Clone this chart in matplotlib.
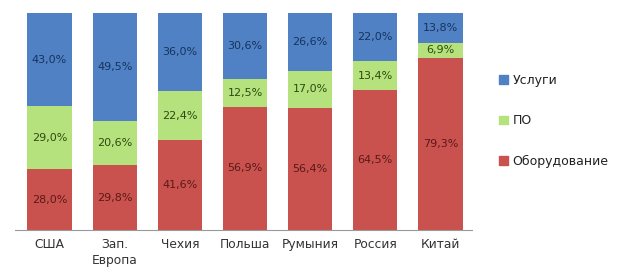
import matplotlib.pyplot as plt
from matplotlib.patches import Patch

# data
countries = ['США', 'Зап.\nЕвропа', 'Чехия', 'Польша', 'Румыния', 'Россия', 'Китай']
hardware = [28.0, 29.8, 41.6, 56.9, 56.4, 64.5, 79.3]
software = [29.0, 20.6, 22.4, 12.5, 17.0, 13.4, 6.9]
services = [43.0, 49.5, 36.0, 30.6, 26.6, 22.0, 13.8]
names = ['Оборудование', 'ПО', 'Услуги']

colors = ['#c9524f', '#b5e27c', '#4f81c4']
txt_colors = ['#5a1a18', '#2f4a12', '#16345c']

plt.rcParams['font.family'] = 'DejaVu Sans'
fig = plt.figure(figsize=(6.24, 2.72), dpi=100)
ax = fig.add_axes([0.024, 0.154, 0.733, 0.798])

x = range(len(countries))
bottom = [0.0] * len(countries)
for vals, c, tc in zip([hardware, software, services], colors, txt_colors):
    bars = ax.bar(x, vals, bottom=bottom, width=0.68, color=c, edgecolor='none')
    for b, v, bt in zip(bars, vals, bottom):
        ax.text(b.get_x() + b.get_width() / 2, bt + v / 2, f'{v:.1f}%'.replace('.', ','),
                ha='center', va='center', fontsize=8, color=tc)
    bottom = [bt + v for bt, v in zip(bottom, vals)]

ax.set_xlim(-0.53, 6.49)
ax.set_ylim(0, 100)
ax.set_yticks([])
ax.set_xticks(list(x))
ax.set_xticklabels(countries, fontsize=8.8, color='#333333', linespacing=1.3)
ax.tick_params(axis='x', length=0, pad=5.5)
for s in ['top', 'right', 'left']:
    ax.spines[s].set_visible(False)
ax.spines['bottom'].set_color('#999999')

handles = [Patch(color=colors[i]) for i in [2, 1, 0]]
labels = [names[i] for i in [2, 1, 0]]
fig.legend(handles, labels, loc='upper left', bbox_to_anchor=(0.782, 0.77), frameon=False,
           fontsize=9, labelspacing=2.2, handlelength=0.7, handleheight=0.7, handletextpad=0.35,
           labelcolor='#222222')

fig.savefig('out.png', dpi=100)
